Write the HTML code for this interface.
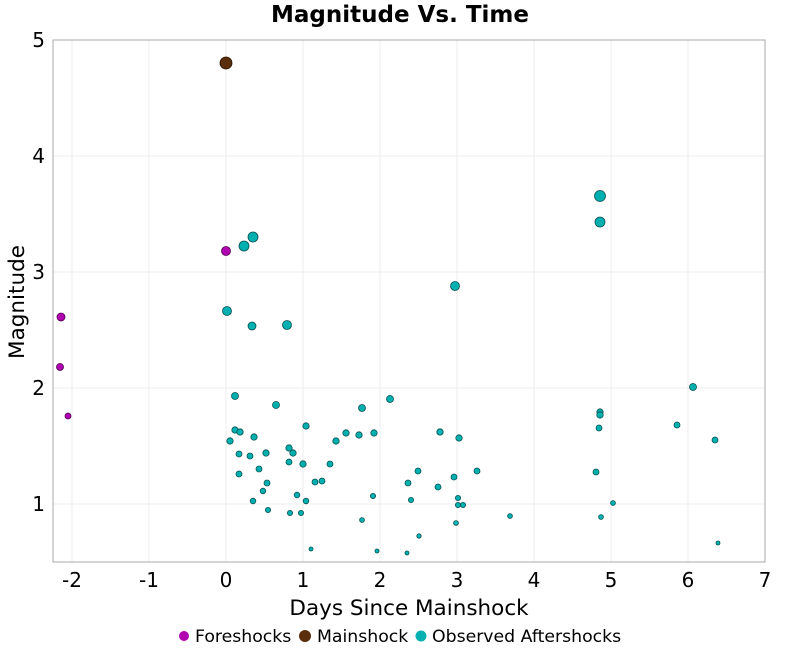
<!DOCTYPE html>
<html><head><meta charset="utf-8"><style>body{margin:0;background:#fff}svg{display:block}text{font-family:"DejaVu Sans","Liberation Sans",sans-serif}</style></head>
<body>
<svg width="800" height="650" xmlns="http://www.w3.org/2000/svg">
<rect width="800" height="650" fill="#fff"/>
<g stroke="#ececec" stroke-width="1">
<line x1="72" y1="40" x2="72" y2="562"/><line x1="149" y1="40" x2="149" y2="562"/><line x1="226" y1="40" x2="226" y2="562"/><line x1="303" y1="40" x2="303" y2="562"/><line x1="380" y1="40" x2="380" y2="562"/><line x1="457" y1="40" x2="457" y2="562"/><line x1="534" y1="40" x2="534" y2="562"/><line x1="611" y1="40" x2="611" y2="562"/><line x1="688" y1="40" x2="688" y2="562"/>
<line x1="53" y1="156" x2="765" y2="156"/><line x1="53" y1="272" x2="765" y2="272"/><line x1="53" y1="388" x2="765" y2="388"/><line x1="53" y1="504" x2="765" y2="504"/>
</g>
<rect x="53" y="40" width="712" height="522" fill="none" stroke="#aaa"/>
<g font-size="20" fill="#000" text-anchor="middle">
<text x="72" y="587">-2</text><text x="149" y="587">-1</text><text x="226" y="587">0</text><text x="303" y="587">1</text><text x="380" y="587">2</text><text x="457" y="587">3</text><text x="534" y="587">4</text><text x="611" y="587">5</text><text x="688" y="587">6</text><text x="765" y="587">7</text>
</g>
<g font-size="20" fill="#000" text-anchor="end">
<text x="45" y="47">5</text><text x="45" y="163">4</text><text x="45" y="279">3</text><text x="45" y="395">2</text><text x="45" y="511">1</text>
</g>
<text x="400" y="22" font-size="23" font-weight="bold" text-anchor="middle">Magnitude Vs. Time</text>
<text x="409" y="615" font-size="21.5" text-anchor="middle">Days Since Mainshock</text>
<text transform="translate(24,302) rotate(-90)" font-size="21.5" text-anchor="middle">Magnitude</text>
<g fill="#b000b0" stroke="#500050" stroke-width="0.8">
<circle cx="61" cy="317" r="4"/><circle cx="60" cy="367" r="3.5"/><circle cx="68" cy="416" r="3"/><circle cx="226" cy="251" r="4.5"/>
</g>
<circle cx="226" cy="63" r="6" fill="#5a2d0c" stroke="#2a1000" stroke-width="0.8"/>
<g fill="#00b0b0" stroke="#0a5050" stroke-width="0.8">
<circle cx="244" cy="246" r="5"/><circle cx="253" cy="237" r="5"/><circle cx="455" cy="286" r="4.5"/><circle cx="600" cy="196" r="5.5"/><circle cx="600" cy="222" r="5"/><circle cx="227" cy="311" r="4.5"/><circle cx="252" cy="326" r="4"/><circle cx="287" cy="325" r="4.5"/><circle cx="693" cy="387" r="3.5"/><circle cx="235" cy="396" r="3.5"/><circle cx="276" cy="405" r="3.5"/><circle cx="362" cy="408" r="3.5"/><circle cx="390" cy="399" r="3.5"/><circle cx="306" cy="426" r="3.2"/><circle cx="235" cy="430" r="3.2"/><circle cx="240" cy="432" r="3.2"/><circle cx="230" cy="441" r="3.2"/><circle cx="254" cy="437" r="3.2"/><circle cx="266" cy="453" r="3.2"/><circle cx="289" cy="448" r="3.2"/><circle cx="293" cy="453" r="3.2"/><circle cx="303" cy="464" r="3.2"/><circle cx="336" cy="441" r="3.2"/><circle cx="346" cy="433" r="3.2"/><circle cx="359" cy="435" r="3.2"/><circle cx="374" cy="433" r="3.2"/><circle cx="440" cy="432" r="3.2"/><circle cx="459" cy="438" r="3.2"/><circle cx="600" cy="412" r="3.2"/><circle cx="600" cy="415" r="3.2"/><circle cx="599" cy="428" r="3"/><circle cx="677" cy="425" r="3"/><circle cx="715" cy="440" r="3"/><circle cx="239" cy="454" r="3"/><circle cx="250" cy="456" r="3"/><circle cx="259" cy="469" r="3"/><circle cx="267" cy="483" r="3"/><circle cx="289" cy="462" r="3"/><circle cx="330" cy="464" r="3"/><circle cx="322" cy="481" r="3"/><circle cx="315" cy="482" r="3"/><circle cx="297" cy="495" r="2.8"/><circle cx="253" cy="501" r="2.8"/><circle cx="306" cy="501" r="2.8"/><circle cx="263" cy="491" r="2.8"/><circle cx="239" cy="474" r="3"/><circle cx="418" cy="471" r="3"/><circle cx="408" cy="483" r="3"/><circle cx="438" cy="487" r="3"/><circle cx="454" cy="477" r="3"/><circle cx="477" cy="471" r="3"/><circle cx="596" cy="472" r="3"/><circle cx="373" cy="496" r="2.6"/><circle cx="411" cy="500" r="2.6"/><circle cx="458" cy="498" r="2.6"/><circle cx="463" cy="505" r="2.6"/><circle cx="458" cy="505" r="2.6"/><circle cx="268" cy="510" r="2.6"/><circle cx="290" cy="513" r="2.6"/><circle cx="301" cy="513" r="2.6"/><circle cx="362" cy="520" r="2.4"/><circle cx="456" cy="523" r="2.4"/><circle cx="510" cy="516" r="2.4"/><circle cx="601" cy="517" r="2.4"/><circle cx="613" cy="503" r="2.4"/><circle cx="419" cy="536" r="2.2"/><circle cx="311" cy="549" r="2"/><circle cx="377" cy="551" r="2"/><circle cx="407" cy="553" r="2"/><circle cx="718" cy="543" r="2"/>
</g>
<g font-size="17.3">
<circle cx="184" cy="636" r="5" fill="#b000b0"/><text x="195" y="642">Foreshocks</text>
<circle cx="305" cy="636" r="6" fill="#5a2d0c"/><text x="317" y="642">Mainshock</text>
<circle cx="421" cy="636" r="5.5" fill="#00b0b0"/><text x="432" y="642">Observed Aftershocks</text>
</g>
</svg>
</body></html>
